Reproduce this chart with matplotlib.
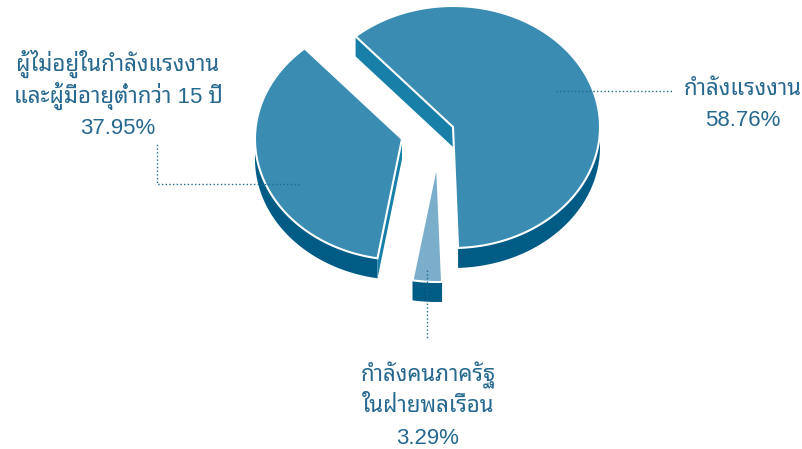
import numpy as np
import matplotlib
matplotlib.use("Agg")
import matplotlib.pyplot as plt

# shares, clockwise from the upper left
labels = [["กำลังแรงงาน"],
          ["กำลังคนภาครัฐ", "ในฝ่ายพลเรือน"],
          ["ผู้ไม่อยู่ในกำลังแรงงาน", "และผู้มีอายุต่ำกว่า 15 ปี"]]
values = [58.76, 3.29, 37.95]

# look of each slice
apex = [(453, 127), (437, 163), (402, 139)]
radius_y = [121, 119, 121]
top_color = ["#3a8cb2", "#7aaecb", "#3a8cb2"]
text_xy = [(743, 95), (428, 381), (118, 71)]

radius_x = 147
depth = 20
start = 131.5
skew = 8.3  # the pie's tilt stretches the angles a little
side_color = "#005b85"
cut_color = "#177fa8"
text_color = "#26688f"
line_color = "#1f6a90"
fonts = ["Liberation Sans", "Noto Sans Thai Looped", "Sarabun", "DejaVu Sans"]


def view_angle(share):
    return start - (share * 3.6 + skew * np.sin(np.pi * share / 100))


fig = plt.figure(figsize=(8.02, 4.49), dpi=100)
ax = fig.add_axes([0, 0, 1, 1])
ax.set_xlim(0, 802)
ax.set_ylim(449, 0)
ax.axis("off")

cum = np.concatenate([[0], np.cumsum(values)])
for i in range(3):
    a1, a2 = view_angle(cum[i]), view_angle(cum[i + 1])
    phi = np.radians(np.linspace(a1, a2, 200))
    cx, cy = apex[i]
    x = cx + radius_x * np.cos(phi)
    y = cy - radius_y[i] * np.sin(phi)

    # outer wall, front half only
    front = np.sin(phi) <= 0
    fx, fy = x[front], y[front]
    ax.fill(np.r_[fx, fx[::-1]], np.r_[fy, fy[::-1] + depth], color=side_color, lw=0, zorder=1)

    # cut walls: first edge of the big slice, first edge of the left one
    if i != 1:
        ax.fill([x[0], cx, cx, x[0]], [y[0], cy, cy + depth, y[0] + depth], color=cut_color, lw=0, zorder=2)

    ax.fill(np.r_[cx, x], np.r_[cy, y], facecolor=top_color[i], edgecolor="white", lw=1.5, zorder=3)

    # text
    tx, ty = text_xy[i]
    for j, line in enumerate(labels[i] + [f"{values[i]:.2f}%"]):
        ax.text(tx, ty + j * 31.5, line, color=text_color, fontsize=16, family=fonts,
                ha="center", va="baseline", zorder=5)

# leader lines
ax.plot([556, 672], [91, 91], color=line_color, lw=1, ls=":", zorder=4)
ax.plot([427, 427], [270, 338], color=line_color, lw=1, ls=":", zorder=4)
ax.plot([299, 157, 157], [184, 184, 144], color=line_color, lw=1, ls=":", zorder=4)

fig.savefig("out.png", dpi=100)
